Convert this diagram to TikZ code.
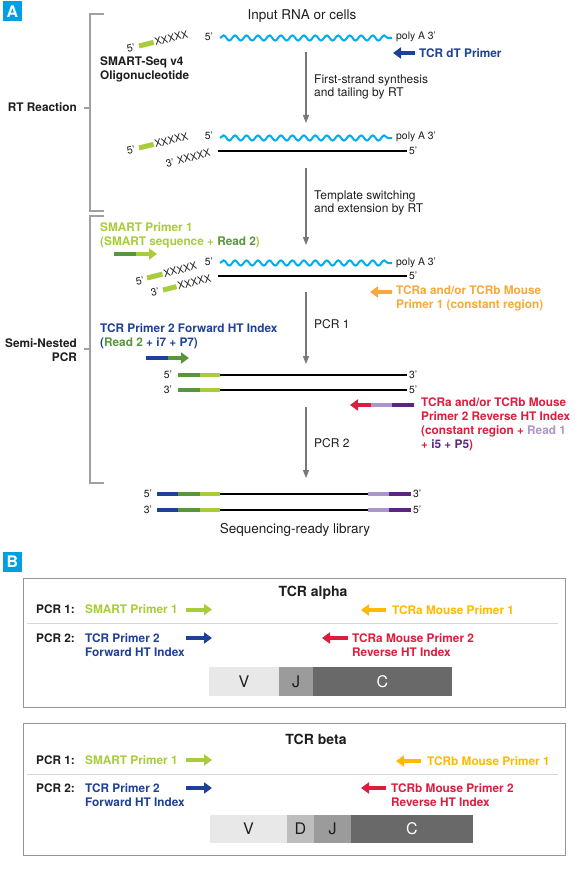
\documentclass[tikz,border=0pt]{standalone}
\usepackage{fontspec}
\setmainfont{TeX Gyre Heros}
\usetikzlibrary{arrows.meta,decorations.pathmorphing}
\definecolor{rnablue}{RGB}{0,174,239}
\definecolor{smartgreen}{RGB}{168,204,58}
\definecolor{readgreen}{RGB}{88,150,62}
\definecolor{indexblue}{RGB}{30,64,150}
\definecolor{pAorange}{RGB}{248,168,60}
\definecolor{pByellow}{RGB}{255,186,0}
\definecolor{revred}{RGB}{220,30,62}
\definecolor{readpurple}{RGB}{170,150,202}
\definecolor{idxpurple}{RGB}{90,38,128}
\definecolor{tagblue}{RGB}{0,158,226}
\definecolor{flowgray}{RGB}{120,120,120}
\definecolor{bracegray}{RGB}{160,160,160}
\definecolor{boxgray}{RGB}{150,150,150}
\definecolor{sepgray}{RGB}{215,215,215}
\definecolor{segV}{RGB}{232,232,232}
\definecolor{segD}{RGB}{190,190,190}
\definecolor{segJ}{RGB}{155,155,155}
\definecolor{segC}{RGB}{105,105,105}
\definecolor{ink}{RGB}{30,30,30}

\begin{document}
\begin{tikzpicture}[x=1pt, y=-1pt, every node/.style={inner sep=0pt, text=ink, font=\fontsize{10.4}{12}\selectfont},
  lbl/.style={font=\fontsize{10.4}{12}\selectfont},
  xx/.style={font=\fontsize{10.2}{12}\selectfont, rotate=14, anchor=west, xshift=1pt},
  hd/.style={font=\fontsize{13.5}{15}\selectfont},
  note/.style={font=\fontsize{12}{12.5}\selectfont, align=left, anchor=west},
  bl/.style={font=\bfseries\fontsize{11.8}{14}\selectfont, align=left, anchor=west},
  ttl/.style={font=\bfseries\fontsize{14}{16}\selectfont},
  seglbl/.style={font=\fontsize{16}{16}\selectfont},
  tag/.style={fill=tagblue, text=white, font=\bfseries\fontsize{16}{16}\selectfont, minimum width=19pt, minimum height=20pt},
  flow/.style={flowgray, line width=1.1pt, -{Triangle[width=6pt,length=8pt]}},
  brace/.style={bracegray, line width=1.3pt},
  wave/.style={rnablue, line width=2pt, decorate, decoration={snake, segment length=11.47pt, amplitude=2.6pt}},
  strand/.style={line width=2pt},
  seg/.style={line width=4.5pt},
  oligo/.style={smartgreen, line width=5pt},
  primer/.style={line width=4.5pt, -{Triangle[width=11pt,length=8pt]}},
  box/.style={draw=boxgray, line width=1pt},
  sep/.style={sepgray, line width=1pt}]
\useasboundingbox (0,0) rectangle (575,880);
\node[tag] (tagA) at (12.5,11.5) {A};
\node[hd] (input) at (302,16) {Input RNA or cells};
\draw[brace] (104,14) -- (90,14) -- (90,211) -- (104,211); \draw[brace] (90,108) -- (84,108);
\draw[brace] (104,216) -- (90,216) -- (90,483) -- (104,483); \draw[brace] (90,349) -- (84,349);
\node[bl, anchor=east] (rtr) at (77,107) {RT Reaction};
\node[bl, anchor=east, align=right] (snpcr) at (77,350) {Semi-Nested\\PCR};

\node[lbl, rotate=14] (oA5) at (131,48) {5'};
\draw[oligo] (139,46) -- ++(-14:15) coordinate (oAend);
\node[xx] (oAx) at (oAend) {XXXXX};
\node[bl] (oligo) at (100,69.5) {SMART-Seq v4\\Oligonucleotide};
\node[lbl] (rA5) at (209,37) {5'};
\draw[wave] (220,38) -- (392,38);
\node[lbl, anchor=west] (rA3) at (396,37) {poly A 3'};
\draw[primer, indexblue] (415,53) -- (393,53);
\node[bl, text=indexblue] (dtp) at (419,53) {TCR dT Primer};
\coordinate (fA) at (306,52); \coordinate (fAend) at (306,123);
\draw[flow] (fA) -- (fAend);
\node[note] (fsyn) at (314,87) {First-strand synthesis\\and tailing by RT};

\node[lbl, rotate=14] (oB5) at (131,150) {5'};
\draw[oligo] (139,148) -- ++(-14:15) coordinate (oBend);
\node[xx] (oBx) at (oBend) {XXXXX};
\node[lbl, rotate=14] (oB3) at (170,163) {3'};
\node[xx] (oBy) at (176,161) {XXXXX};
\node[lbl] (rB5) at (209,136) {5'};
\draw[wave] (220,138) -- (392,138);
\node[lbl, anchor=west] (rB3) at (396,137) {poly A 3'};
\draw[strand] (218,151) -- (407,151);
\node[lbl, anchor=west] (cB5) at (409,151) {5'};
\coordinate (fB) at (306,168); \coordinate (fBend) at (306,245);
\draw[flow] (fB) -- (fBend);
\node[note] (tsw) at (314,203) {Template switching\\and extension by RT};

\node[bl, text=smartgreen] (sp1) at (100,235) {SMART Primer 1\\(SMART sequence + \textcolor{readgreen}{Read 2})};
\draw[seg, readgreen] (114,254) -- (136,254); \draw[primer, smartgreen] (136,254) -- (157,254);
\node[lbl, rotate=14] (oC5) at (140,281) {5'};
\draw[oligo] (147,278) -- ++(-14:16) coordinate (oCend);
\node[xx] (oCx) at (oCend) {XXXXX};
\node[lbl, rotate=14] (oC3) at (155,292) {3'};
\draw[oligo] (163,290) -- ++(-14:14) coordinate (oCend2);
\node[xx] (oCy) at (oCend2) {XXXXX};
\node[lbl] (rC5) at (209,262) {5'};
\draw[wave] (220,263) -- (392,263);
\node[lbl, anchor=west] (rC3) at (396,263) {poly A 3'};
\draw[strand] (218,276) -- (407,276);
\node[lbl, anchor=west] (cC5) at (409,276) {5'};
\draw[primer, pAorange] (392,292) -- (370,292);
\node[bl, text=pAorange] (mp1) at (396,298.5) {TCRa and/or TCRb Mouse\\Primer 1 (constant region)};
\coordinate (fC) at (306,292); \coordinate (fCend) at (306,364);
\draw[flow] (fC) -- (fCend);
\node[note] (pcr1) at (314,324) {PCR 1};

\node[bl, text=indexblue] (tp2) at (100,336) {TCR Primer 2 Forward HT Index\\(\textcolor{readgreen}{Read 2} + i7 + P7)};
\draw[seg, indexblue] (146,358) -- (168,358); \draw[primer, readgreen] (168,358) -- (189,358);
\node[lbl] (dA5) at (168,375) {5'};
\draw[seg, readgreen] (178,375) -- (200,375); \draw[seg, smartgreen] (200,375) -- (220,375); \draw[strand] (220,375) -- (407,375);
\node[lbl, anchor=west] (dA3) at (409,375) {3'};
\node[lbl] (dB3) at (168,390) {3'};
\draw[seg, readgreen] (178,390) -- (200,390); \draw[seg, smartgreen] (200,390) -- (220,390); \draw[strand] (220,390) -- (407,390);
\node[lbl, anchor=west] (dB5) at (409,390) {5'};
\draw[seg, idxpurple] (414,405) -- (392,405); \draw[seg, readpurple] (392,405) -- (371,405); \draw[primer, revred] (371,405) -- (350,405);
\node[bl, text=revred] (mp2) at (421,424) {TCRa and/or TCRb Mouse\\Primer 2 Reverse HT Index\\(constant region + \textcolor{readpurple}{Read 1}\\+ \textcolor{idxpurple}{i5 + P5})};
\coordinate (fD) at (306,407); \coordinate (fDend) at (306,478);
\draw[flow] (fD) -- (fDend);
\node[note] (pcr2) at (314,443) {PCR 2};

\node[lbl] (lA5) at (148,494) {5'};
\draw[seg, indexblue] (157,494) -- (178,494); \draw[seg, readgreen] (178,494) -- (200,494); \draw[seg, smartgreen] (200,494) -- (220,494);
\draw[strand] (220,494) -- (368,494); \draw[seg, readpurple] (368,494) -- (389,494); \draw[seg, idxpurple] (389,494) -- (411,494);
\node[lbl, anchor=west] (lA3) at (413,494) {3'};
\node[lbl] (lB3) at (148,510) {3'};
\draw[seg, indexblue] (157,510) -- (178,510); \draw[seg, readgreen] (178,510) -- (200,510); \draw[seg, smartgreen] (200,510) -- (220,510);
\draw[strand] (220,510) -- (368,510); \draw[seg, readpurple] (368,510) -- (389,510); \draw[seg, idxpurple] (389,510) -- (411,510);
\node[lbl, anchor=west] (lB5) at (413,510) {5'};
\node[hd] (lib) at (295,530) {Sequencing-ready library};

\node[tag] (tagB) at (12.5,562) {B};
\draw[box] (23,578) rectangle (565,707); \draw[sep] (27,623) -- (558,623);
\node[ttl] (alpha) at (313,593) {TCR alpha};
\node[bl] (aP1) at (36,609) {PCR 1:};
\node[bl, text=smartgreen] (aS) at (85,609) {SMART Primer 1};
\draw[primer, smartgreen, line width=4pt] (186,609.5) -- (212,609.5);
\draw[primer, pByellow, line width=4pt] (386,610) -- (361,610);
\node[bl, text=pByellow] (aM1) at (392,610) {TCRa Mouse Primer 1};
\node[bl] (aP2) at (36,638) {PCR 2:};
\node[bl, text=indexblue] (aT) at (85,645) {TCR Primer 2\\Forward HT Index};
\draw[primer, indexblue, line width=4pt] (186,638) -- (212,638);
\draw[primer, revred, line width=4pt] (348,638) -- (322,638);
\node[bl, text=revred] (aM2) at (352,645) {TCRa Mouse Primer 2\\Reverse HT Index};
\fill[segV] (209,667) rectangle (279,696); \fill[segJ] (279,667) rectangle (313,696); \fill[segC] (313,667) rectangle (452,696);
\node[seglbl] (aV) at (244,682) {V}; \node[seglbl] (aJ) at (296,682) {J}; \node[seglbl, text=white] (aC) at (382.5,682) {C};

\draw[box] (23,723) rectangle (565,855); \draw[sep] (27,774) -- (558,774);
\node[ttl] (beta) at (316,739) {TCR beta};
\node[bl] (bP1) at (36,760) {PCR 1:};
\node[bl, text=smartgreen] (bS) at (85,760) {SMART Primer 1};
\draw[primer, smartgreen, line width=4pt] (186,760) -- (212,760);
\draw[primer, pByellow, line width=4pt] (421,761) -- (396,761);
\node[bl, text=pByellow] (bM1) at (427,761) {TCRb Mouse Primer 1};
\node[bl] (bP2) at (36,788) {PCR 2:};
\node[bl, text=indexblue] (bT) at (85,795) {TCR Primer 2\\Forward HT Index};
\draw[primer, indexblue, line width=4pt] (186,788) -- (212,788);
\draw[primer, revred, line width=4pt] (386,788) -- (361,788);
\node[bl, text=revred] (bM2) at (391,795) {TCRb Mouse Primer 2\\Reverse HT Index};
\fill[segV] (210,815) rectangle (287,843); \fill[segD] (287,815) rectangle (314,843); \fill[segJ] (314,815) rectangle (351,843); \fill[segC] (351,815) rectangle (473,843);
\node[seglbl] (bV) at (248.5,829) {V}; \node[seglbl] (bD) at (300.5,829) {D}; \node[seglbl] (bJ) at (332.5,829) {J}; \node[seglbl, text=white] (bC) at (412,829) {C};
\end{tikzpicture}
\end{document}
